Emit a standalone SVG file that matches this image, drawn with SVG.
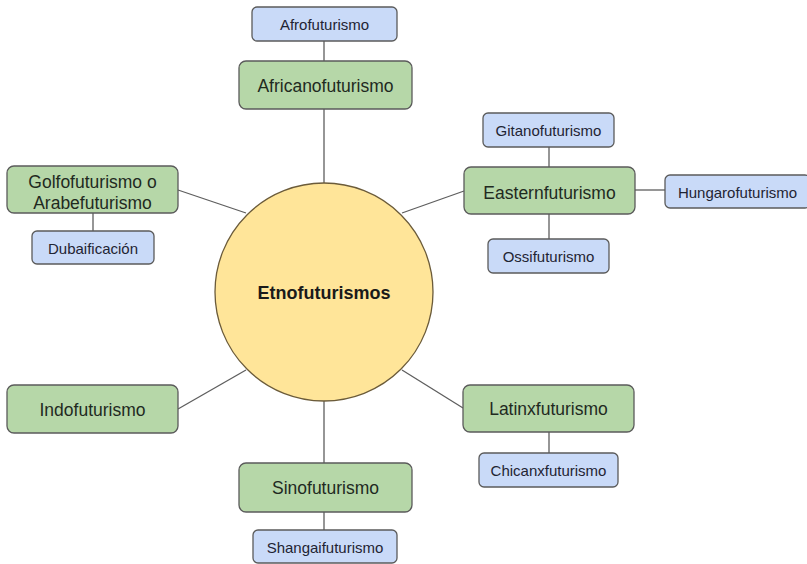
<svg xmlns="http://www.w3.org/2000/svg" width="807" height="564" viewBox="0 0 807 564">
<style>
.main rect{fill:#b6d7a8;stroke:#5b5b5b;stroke-width:1.3}
.sub rect{fill:#c9daf8;stroke:#5b5b5b;stroke-width:1.3}
.main text{font-family:"Liberation Sans",Arial,sans-serif;font-size:17.5px;fill:#1f2a1f;text-anchor:middle;dominant-baseline:central}
.sub text{font-family:"Liberation Sans",Arial,sans-serif;font-size:15px;fill:#1f2433;text-anchor:middle;dominant-baseline:central}
#connectors line{stroke:#5e5e5e;stroke-width:1.3}
</style>
<rect width="807" height="564" fill="#ffffff"/>
<g id="connectors">
<line x1="324" y1="41" x2="324" y2="61"/>
<line x1="324" y1="109" x2="324" y2="183"/>
<line x1="178" y1="190" x2="246" y2="213"/>
<line x1="93" y1="213" x2="93" y2="231"/>
<line x1="549" y1="147" x2="549" y2="167"/>
<line x1="549" y1="214" x2="549" y2="239"/>
<line x1="635" y1="190" x2="665" y2="190"/>
<line x1="402" y1="213" x2="464" y2="191"/>
<line x1="246" y1="370" x2="178" y2="409"/>
<line x1="402" y1="370" x2="463" y2="408"/>
<line x1="549" y1="432" x2="549" y2="453"/>
<line x1="324" y1="400" x2="324" y2="463"/>
<line x1="324" y1="512" x2="324" y2="530"/>
</g>
<g id="etnofuturismos">
<circle cx="324" cy="292" r="109" fill="#ffe599" stroke="#6b5b3a" stroke-width="1.3"/>
<text x="324" y="293" font-family="'Liberation Sans',Arial,sans-serif" font-size="18" font-weight="bold" fill="#1a1a1a" text-anchor="middle" dominant-baseline="central">Etnofuturismos</text>
</g>
<g id="afrofuturismo" class="sub"><rect x="252" y="7" width="145" height="34" rx="5"/><text x="324.5" y="24">Afrofuturismo</text></g>
<g id="africanofuturismo" class="main"><rect x="239" y="61" width="173" height="48" rx="7"/><text x="325.5" y="86">Africanofuturismo</text></g>
<g id="golfofuturismo" class="main"><rect x="7" y="166" width="171" height="47" rx="7"/><text x="92.5" y="182">Golfofuturismo o</text><text x="92.5" y="203">Arabefuturismo</text></g>
<g id="dubaificacion" class="sub"><rect x="32" y="231" width="122" height="33" rx="5"/><text x="93" y="248">Dubaificación</text></g>
<g id="gitanofuturismo" class="sub"><rect x="483" y="113" width="131" height="34" rx="5"/><text x="548.5" y="130">Gitanofuturismo</text></g>
<g id="easternfuturismo" class="main"><rect x="464" y="167" width="171" height="47" rx="7"/><text x="549.5" y="193">Easternfuturismo</text></g>
<g id="hungarofuturismo" class="sub"><rect x="665" y="175" width="145" height="33" rx="5"/><text x="737.5" y="192">Hungarofuturismo</text></g>
<g id="ossifuturismo" class="sub"><rect x="488" y="239" width="121" height="34" rx="5"/><text x="548.5" y="256">Ossifuturismo</text></g>
<g id="indofuturismo" class="main"><rect x="7" y="385" width="171" height="48" rx="7"/><text x="92.5" y="410">Indofuturismo</text></g>
<g id="latinxfuturismo" class="main"><rect x="463" y="385" width="171" height="47" rx="7"/><text x="548.5" y="409">Latinxfuturismo</text></g>
<g id="chicanxfuturismo" class="sub"><rect x="479" y="453" width="139" height="34" rx="5"/><text x="548.5" y="470">Chicanxfuturismo</text></g>
<g id="sinofuturismo" class="main"><rect x="239" y="463" width="173" height="49" rx="7"/><text x="325.5" y="488">Sinofuturismo</text></g>
<g id="shangaifuturismo" class="sub"><rect x="253" y="530" width="144" height="33" rx="5"/><text x="325" y="547">Shangaifuturismo</text></g>
</svg>
